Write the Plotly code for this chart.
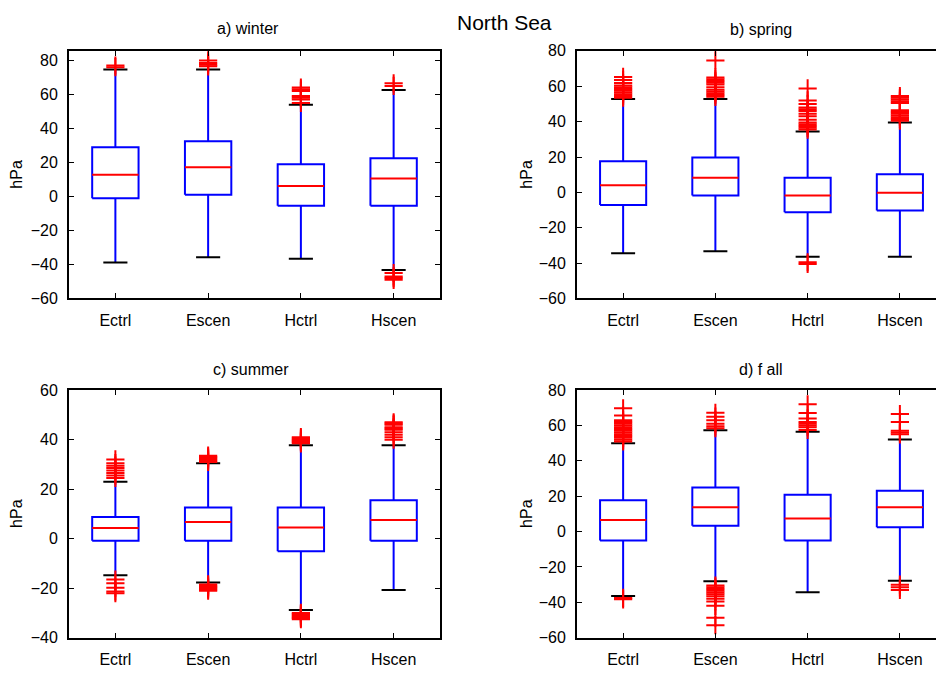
import plotly.graph_objects as go

# Seasonal boxplots of pressure differences (hPa), North Sea
categories = ["Ectrl", "Escen", "Hctrl", "Hscen"]
panel_titles = ["a) winter", "b) spring", "c) summer", "d) f all"]

# box statistics per panel: [Ectrl, Escen, Hctrl, Hscen]
winter_q1 = [-1.0, 1.0, -5.5, -5.5]
winter_med = [12.8, 17.2, 6.2, 10.5]
winter_q3 = [29.0, 32.4, 19.0, 22.4]
winter_lo = [-38.8, -35.7, -36.6, -43.2]
winter_hi = [74.6, 74.6, 54.0, 62.6]
winter_out = [
    [76.0, 77.0],
    [76.5, 77.5, 78.5, 80.0],
    [55.0, 57.0, 58.0, 59.0, 62.0, 63.0, 64.0],
    [65.0, 66.5, -45.0, -47.0, -48.0, -49.0],
]

spring_q1 = [-7.2, -1.8, -11.2, -10.3]
spring_med = [4.0, 8.3, -1.8, -0.2]
spring_q3 = [17.6, 19.7, 8.3, 10.3]
spring_lo = [-34.4, -33.3, -36.4, -36.4]
spring_hi = [52.8, 52.8, 34.4, 39.5]
spring_out = [
    [53.5, 54.5, 55.5, 56.5, 57.5, 58.5, 59.5, 60.5, 61.8, 63.6, 65.3],
    [54.0, 55.0, 56.0, 57.0, 58.0, 59.5, 61.0, 62.0, 63.0, 64.0, 65.0, 74.6],
    [35.5, 36.5, 37.5, 38.5, 39.5, 41.0, 43.0, 44.5, 46.0, 47.0, 48.0, 50.0,
     52.0, 58.8, -39.5, -40.5],
    [40.5, 41.5, 42.5, 43.5, 44.5, 45.5, 46.5, 50.5, 51.5, 52.5, 53.5, 54.5],
]

summer_q1 = [-0.8, -0.8, -5.1, -0.8]
summer_med = [4.3, 6.7, 4.5, 7.5]
summer_q3 = [8.8, 12.6, 12.6, 15.5]
summer_lo = [-14.8, -17.7, -28.8, -20.7]
summer_hi = [23.0, 30.5, 37.7, 37.7]
summer_out = [
    [24.5, 25.5, 26.5, 27.5, 28.5, 29.5, 30.5, 32.0,
     -16.5, -18.0, -19.8, -21.3, -22.0],
    [31.0, 31.5, 32.0, 32.5, 33.0, 33.5,
     -18.5, -19.0, -19.5, -20.0, -20.5, -21.0],
    [38.5, 39.0, 39.5, 40.0, 40.5, 41.0,
     -30.0, -30.5, -31.0, -31.5, -32.0, -32.5],
    [40.0, 41.0, 42.0, 43.0, 44.0, 44.5, 45.0, 46.0, 46.5, 47.0],
]

fall_q1 = [-5.0, 3.3, -5.0, 2.4]
fall_med = [6.5, 13.7, 7.4, 13.7]
fall_q3 = [17.7, 24.9, 20.8, 23.1]
fall_lo = [-36.4, -28.1, -34.3, -27.8]
fall_hi = [49.9, 57.3, 56.4, 52.1]
fall_out = [
    [51.0, 52.0, 53.0, 54.0, 55.0, 56.0, 57.0, 58.0, 59.0, 60.0, 61.0, 62.0,
     63.0, 65.6, 69.7, -37.5, -38.3],
    [58.5, 59.5, 61.0, 63.0, 65.0, 67.2,
     -30.5, -31.5, -32.5, -33.5, -34.5, -35.5, -36.5, -38.0, -39.5, -42.0,
     -48.7, -52.9],
    [57.5, 59.0, 60.0, 61.0, 62.0, 64.0, 67.0, 72.0],
    [55.0, 56.0, 57.0, 62.0, 66.5, -30.0, -31.5, -33.0],
]

y_ticks = {
    "winter": [-60, -40, -20, 0, 20, 40, 60, 80],
    "spring": [-60, -40, -20, 0, 20, 40, 60, 80],
    "summer": [-40, -20, 0, 20, 40, 60],
    "fall": [-60, -40, -20, 0, 20, 40, 60, 80],
}

panels = [
    (winter_q1, winter_med, winter_q3, winter_lo, winter_hi, winter_out, y_ticks["winter"], [-60, 85.6]),
    (spring_q1, spring_med, spring_q3, spring_lo, spring_hi, spring_out, y_ticks["spring"], [-60, 80]),
    (summer_q1, summer_med, summer_q3, summer_lo, summer_hi, summer_out, y_ticks["summer"], [-40, 60]),
    (fall_q1, fall_med, fall_q3, fall_lo, fall_hi, fall_out, y_ticks["fall"], [-60, 80]),
]

W, H = 936, 674
BLUE, RED, BLACK = "#0000FF", "#FF0000", "#000000"
FONT = "Liberation Sans, Arial, sans-serif"
HALF_BOX = 0.25
HALF_CAP = 0.13

# axes placement in pixels: (left, right, top, bottom); right column runs past the page edge
axes_px = [(69, 440, 44, 298), (577, 946, 44, 298), (69, 440, 392, 646), (577, 946, 392, 646)]

fig = go.Figure()

for k, (q1, med, q3, lo, hi, outs, ticks, yr) in enumerate(panels):
    xa = "x" if k == 0 else f"x{k+1}"
    ya = "y" if k == 0 else f"y{k+1}"
    pos = list(range(1, len(categories) + 1))

    bx, by, mx, my, wx, wy, cx, cy, ox, oy = [], [], [], [], [], [], [], [], [], []
    for i, p in enumerate(pos):
        bx += [p - HALF_BOX, p + HALF_BOX, p + HALF_BOX, p - HALF_BOX, p - HALF_BOX, None]
        by += [q1[i], q1[i], q3[i], q3[i], q1[i], None]
        mx += [p - HALF_BOX, p + HALF_BOX, None]
        my += [med[i], med[i], None]
        wx += [p, p, None, p, p, None]
        wy += [q3[i], hi[i], None, q1[i], lo[i], None]
        cx += [p - HALF_CAP, p + HALF_CAP, None, p - HALF_CAP, p + HALF_CAP, None]
        cy += [hi[i], hi[i], None, lo[i], lo[i], None]
        ox += [p] * len(outs[i])
        oy += outs[i]

    common = dict(xaxis=xa, yaxis=ya, showlegend=False, hoverinfo="skip")
    fig.add_trace(go.Scatter(x=wx, y=wy, mode="lines", line=dict(color=BLUE, width=2), **common))
    fig.add_trace(go.Scatter(x=bx, y=by, mode="lines", line=dict(color=BLUE, width=2), **common))
    fig.add_trace(go.Scatter(x=mx, y=my, mode="lines", line=dict(color=RED, width=2), **common))
    fig.add_trace(go.Scatter(x=cx, y=cy, mode="lines", line=dict(color=BLACK, width=2), **common))
    fig.add_trace(go.Scatter(x=ox, y=oy, mode="markers",
                             marker=dict(symbol="cross-thin", size=13, color=RED,
                                         line=dict(color=RED, width=2)), **common))

    l, r, t, b = axes_px[k]
    px_per_unit = (r - l) / 4.0
    x_max = 4.5 - max(0, r - W) / px_per_unit
    right_px = min(r, W)
    left_col = r <= W

    xkey = "xaxis" if k == 0 else f"xaxis{k+1}"
    ykey = "yaxis" if k == 0 else f"yaxis{k+1}"
    fig.update_layout({
        xkey: dict(domain=[l / W, right_px / W], range=[0.5, x_max], anchor=ya,
                   tickvals=pos, ticktext=categories, ticks="inside", ticklen=5,
                   tickcolor=BLACK, tickwidth=1, showline=True, linecolor=BLACK,
                   linewidth=2, mirror="ticks", showgrid=False, zeroline=False,
                   ticklabelstandoff=6,
                   tickfont=dict(family=FONT, size=16, color=BLACK)),
        ykey: dict(domain=[1 - b / H, 1 - t / H], range=yr, anchor=xa,
                   tickvals=ticks, ticks="inside", ticklen=5, tickcolor=BLACK,
                   tickwidth=1, showline=True, linecolor=BLACK, linewidth=2,
                   mirror="ticks" if left_col else False, showgrid=False,
                   zeroline=False, ticklabelstandoff=6,
                   tickfont=dict(family=FONT, size=16, color=BLACK)),
    })

annotations = []
title_pos = [(248, 21), (761, 22), (251, 371), (761, 371)]
for k, (tx, ty) in enumerate(title_pos):
    annotations.append(dict(text=panel_titles[k], x=tx / W, y=1 - ty / H, xref="paper",
                            yref="paper", showarrow=False, xanchor="center", yanchor="middle",
                            font=dict(family=FONT, size=16, color=BLACK)))
label_pos = [(17, 171), (527, 171), (17, 519), (527, 519)]
for lx, ly in label_pos:
    annotations.append(dict(text="hPa", x=lx / W, y=1 - ly / H, xref="paper", yref="paper",
                            showarrow=False, textangle=-90, xanchor="center",
                            yanchor="middle", font=dict(family=FONT, size=16, color=BLACK)))
annotations.append(dict(text="North Sea", x=504 / W, y=1 - 15 / H, xref="paper",
                        yref="paper", showarrow=False, xanchor="center", yanchor="middle",
                        font=dict(family=FONT, size=21, color=BLACK)))

fig.update_layout(width=W, height=H, margin=dict(l=0, r=0, t=0, b=0),
                  paper_bgcolor="white", plot_bgcolor="white",
                  annotations=annotations)

fig.write_html("out.html")
